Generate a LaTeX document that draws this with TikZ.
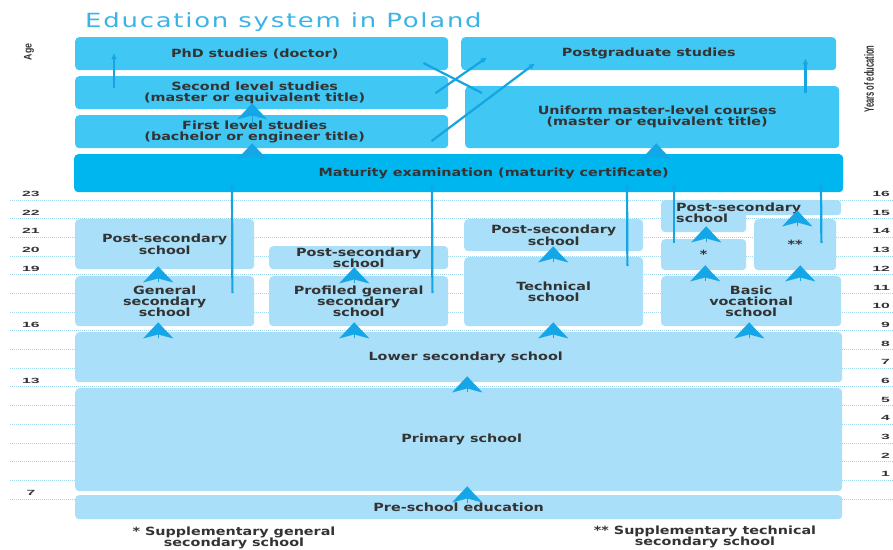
\documentclass[tikz,border=0pt]{standalone}
\usepackage{fontspec}
\usetikzlibrary{arrows.meta,calc}
\newfontfamily\bodyff[FakeStretch=1.27]{DejaVu Sans}
\newfontfamily\numff[FakeStretch=2.1]{Liberation Sans}
\newfontfamily\ageff[FakeStretch=0.8]{Liberation Sans}
\newfontfamily\yearsff[FakeStretch=0.56]{Liberation Sans}
\newfontfamily\titleff[FakeStretch=1.33,LetterSpace=9]{DejaVu Sans}
\definecolor{titleblue}{HTML}{3AB4E6}
\definecolor{hiblue}{HTML}{40C7F4}
\definecolor{matblue}{HTML}{00B6EF}
\definecolor{paleblue}{HTML}{A9DFF8}
\definecolor{arrblue}{HTML}{14A5E2}
\definecolor{chevblue}{HTML}{14A6E6}
\definecolor{gridblue}{HTML}{9ED6F0}
\definecolor{txtgray}{HTML}{333333}
\newcommand\bodytext{\bodyff\bfseries\fontsize{11.3}{11.3}\selectfont}
\tikzset{
  box/.style={rounded corners=4pt, inner sep=0pt, align=center, anchor=north west,
    font=\bodytext, text=txtgray},
  hibox/.style={box, fill=hiblue},
  matbox/.style={box, fill=matblue},
  palebox/.style={box, fill=paleblue},
  chev/.style={-{Stealth[length=16pt,width=30pt,inset=4pt]}, draw=chevblue, fill=chevblue, line width=0.2pt},
  thinarrow/.style={-{Latex[length=6pt,width=6pt]}, draw=arrblue, line width=2.2pt},
  thinline/.style={draw=arrblue, line width=2.2pt},
  gridline/.style={draw=gridblue, line width=0.8pt, dash pattern=on 1pt off 1pt},
  numlabel/.style={font=\numff\bfseries\fontsize{7.5}{8}\selectfont, text=txtgray, inner sep=0pt},
  sidelabel/.style={text=txtgray, inner sep=0pt, rotate=90},
  note/.style={font=\bodytext, text=txtgray, align=center, inner sep=0pt}
}
\begin{document}
\begin{tikzpicture}[x=1pt,y=-1pt]
\useasboundingbox[fill=white] (0,0) rectangle (893,549);

% grid lines and scales
\foreach \k in {0,...,16}{
  \pgfmathsetmacro{\yy}{200+18.6875*\k}
  \draw[gridline] (10,\yy) -- (893,\yy);
}
\foreach \k in {0,...,15}{
  \pgfmathsetmacro{\yy}{200+18.6875*\k-6}
  \pgfmathtruncatemacro{\yr}{16-\k}
  \node[numlabel, anchor=east] (yr\k) at (890,\yy) {\yr};
}
\foreach \k/\a in {0/23,1/22,2/21,3/20,4/19,7/16,10/13,16/7}{
  \pgfmathsetmacro{\yy}{200+18.6875*\k-6}
  \node[numlabel] (age\k) at (31,\yy) {\a};
}

% title and side labels
\node[font=\titleff\fontsize{19.5}{20}\selectfont, text=titleblue, anchor=base west, inner sep=0pt] (title) at (85,27) {Education system in Poland};
\node[sidelabel, font=\ageff\bfseries\fontsize{11}{12}\selectfont] (agelbl) at (29,52) {Age};
\node[sidelabel, font=\yearsff\bfseries\fontsize{13.5}{14}\selectfont] (yearslbl) at (869,79) {Years of education};

% higher education
\node[hibox, minimum width=373pt, minimum height=33pt] (phd) at (75,37) {PhD studies (doctor)\hspace*{14pt}};
\node[hibox, minimum width=375pt, minimum height=33pt] (postgrad) at (461,37) {Postgraduate studies};
\node[hibox, minimum width=373pt, minimum height=33pt] (second) at (75,76) {Second level studies\hspace*{14pt}\\(master or equivalent title)\hspace*{14pt}};
\node[hibox, minimum width=373pt, minimum height=33pt] (first) at (75,115) {First level studies\hspace*{14pt}\\(bachelor or engineer title)\hspace*{14pt}};
\node[hibox, minimum width=374pt, minimum height=62pt] (uniform) at (465,86) {\hspace*{10pt}Uniform master-level courses\\\hspace*{10pt}(master or equivalent title)};
\node[matbox, minimum width=769pt, minimum height=38pt] (mat) at (74,154) {\hspace*{70pt}Maturity examination (maturity certificate)};

% secondary
\node[palebox, minimum width=179pt, minimum height=50pt] (ps1) at (75,219) {Post-secondary\\school};
\node[palebox, minimum width=179pt, minimum height=50pt] (gen) at (75,276) {General\\secondary\\school};
\node[palebox, minimum width=179pt, minimum height=23pt] (ps2) at (269,246) {Post-secondary\\school};
\node[palebox, minimum width=179pt, minimum height=50pt] (prof) at (269,276) {Profiled general\\secondary\\school};
\node[palebox, minimum width=179pt, minimum height=32pt] (ps3) at (464,219) {Post-secondary\\school};
\node[palebox, minimum width=179pt, minimum height=69pt] (tech) at (464,257) {Technical\\school};
\node[palebox, minimum width=180pt, minimum height=15pt] (ps4a) at (661,200) {};
\node[palebox, minimum width=85pt, minimum height=32pt] (ps4b) at (661,200) {};
\node[box, align=left] (ps4txt) at (676,202.5) {Post-secondary\\school};
\node[palebox, minimum width=85pt, minimum height=31pt] (star) at (661,239) {*};
\node[palebox, minimum width=82pt, minimum height=51pt] (dstar) at (754,219) {**};
\node[palebox, minimum width=180pt, minimum height=50pt] (voc) at (661,276) {Basic\\vocational\\school};

% lower levels
\node[palebox, minimum width=767pt, minimum height=50pt] (lower) at (75,332) {\hspace*{14pt}Lower secondary school};
\node[palebox, minimum width=767pt, minimum height=103pt] (primary) at (75,388) {\hspace*{6pt}Primary school};
\node[palebox, minimum width=767pt, minimum height=24pt] (pre) at (75,495) {Pre-school education};

% footnotes
\node[note] (note1) at (234,538) {* Supplementary general\\secondary school};
\node[note] (note2) at (705,537) {** Supplementary technical\\secondary school};

% thin connectors
\draw[thinarrow] ($(second.west)+(39,-4.5)$) -- ($(phd.west)+(39,-0.5)$);
\draw[thinline] ($(uniform.north west)+(17,7)$) -- ($(phd.north east)+(-25,26)$);
\draw[thinarrow] ($(second.east)+(-13,0.5)$) -- ($(postgrad.south west)+(26,-13)$);
\draw[thinarrow] ($(first.east)+(-17,9.5)$) -- ($(postgrad.south west)+(74,-7)$);
\draw[thinarrow] ($(uniform.north east)+(-34,7)$) -- ($(postgrad.south east)+(-31,-12)$);
\draw[thinarrow] ($(gen.north east)+(-22,17)$) -- ($(mat.south west)+(158,-9)$);
\draw[thinarrow] ($(prof.north east)+(-16,17)$) -- ($(mat.south west)+(358,-9)$);
\draw[thinarrow] ($(tech.north east)+(-16,9)$) -- ($(mat.south west)+(553,-9)$);
\draw[thinarrow] ($(star.north west)+(13,4)$) -- ($(mat.south west)+(600,-9)$);
\draw[thinarrow] ($(dstar.north east)+(-15,24)$) -- ($(mat.south west)+(747,-9)$);

% chevron arrows
\draw[chev] ($(first.north)+(-9.5,10)$) -- ($(second.south)+(-9.5,-6)$);
\draw[chev] ($(mat.north)+(-206.5,5)$) -- ($(first.south)+(-9.5,-5)$);
\draw[chev] ($(mat.north)+(197.5,5)$) -- ($(uniform.south)+(4,-5)$);
\draw[chev] ($(lower.north)+(-300.5,6)$) -- ($(gen.south)+(-6.5,-4)$);
\draw[chev] ($(lower.north)+(-104.5,6)$) -- ($(prof.south)+(-4.5,-4)$);
\draw[chev] ($(lower.north)+(94.5,6)$) -- ($(tech.south)+(-0.5,-4)$);
\draw[chev] ($(lower.north)+(290.5,6)$) -- ($(voc.south)+(-2,-4)$);
\draw[chev] ($(gen.north)+(-6.5,6)$) -- ($(ps1.south)+(-6.5,-3)$);
\draw[chev] ($(prof.north)+(-4.5,7)$) -- ($(ps2.south)+(-4.5,-2)$);
\draw[chev] ($(tech.north)+(-0.5,5)$) -- ($(ps3.south)+(-0.5,-5)$);
\draw[chev] ($(voc.north)+(-46,5)$) -- ($(star.south)+(1.5,-5)$);
\draw[chev] ($(voc.north)+(49,5)$) -- ($(dstar.south)+(5,-5)$);
\draw[chev] ($(star.north)+(2.5,3)$) -- ($(ps4b.south)+(2.5,-6)$);
\draw[chev] ($(dstar.north)+(2,7)$) -- ($(ps4a.south)+(46,-5)$);
\draw[chev] ($(primary.north)+(8.5,4)$) -- ($(lower.south)+(8.5,-6)$);
\draw[chev] ($(pre.north)+(8.5,8)$) -- ($(primary.south)+(8.5,-5)$);
\end{tikzpicture}
\end{document}
